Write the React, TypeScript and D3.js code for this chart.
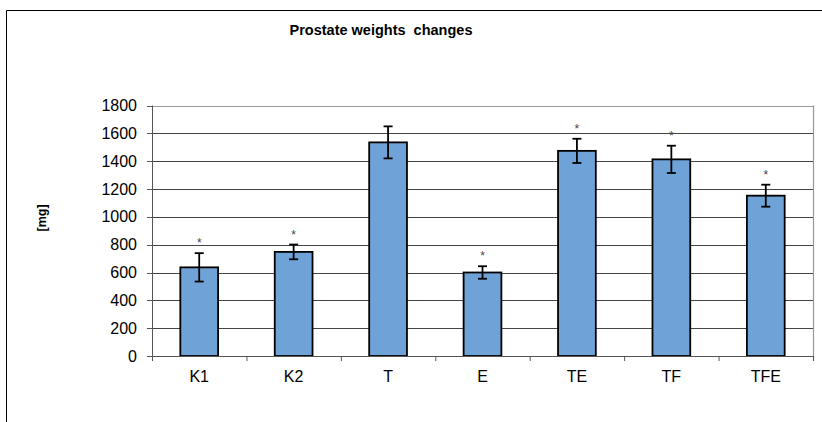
import React from "react";
import * as d3 from "d3";

const categories = ["K1", "K2", "T", "E", "TE", "TF", "TFE"];
const means = [637, 748, 1535, 600, 1474, 1413, 1152];
const errors = [102, 53, 115, 45, 87, 98, 79];
const significant = [true, true, false, true, true, true, true];
const yTicks = [0, 200, 400, 600, 800, 1000, 1200, 1400, 1600, 1800];
const title = "Prostate weights  changes";
const yLabel = "[mg]";

const W = 822;
const H = 422;
const left = 152;
const right = 813;
const top = 105.5;
const bottom = 356;

export default function App() {
  const x = d3.scaleBand<string>().domain(categories).range([left, right]).paddingInner(0).paddingOuter(0);
  const y = d3.scaleLinear().domain([0, 1800]).range([bottom, top]);
  const bw = x.bandwidth() * 0.4;
  const font = "Arial, 'Liberation Sans', Helvetica, sans-serif";
  const ticksX = categories.map((_, i) => left + i * x.step()).concat([right]);

  return (
    <svg width={W} height={H} style={{ position: "absolute", left: 0, top: 0 }} fontFamily={font}>
      <rect x={0} y={0} width={W} height={H} fill="#fff" />
      <line x1={6.5} y1={10.5} x2={W} y2={10.5} stroke="#000" strokeWidth={1} />
      <line x1={6.5} y1={10.5} x2={6.5} y2={H} stroke="#000" strokeWidth={1} />
      <text x={381} y={35} textAnchor="middle" fontSize={14.5} fontWeight="bold" style={{ whiteSpace: "pre" }}>
        {title}
      </text>
      <text transform={`translate(46,218) rotate(-90)`} textAnchor="middle" fontSize={12.5} fontWeight="bold">
        {yLabel}
      </text>
      {categories.map((c, i) =>
        significant[i] ? (
          <text
            key={"s" + c}
            x={(x(c) as number) + x.bandwidth() / 2}
            y={y(means[i] + errors[i]) - 6}
            textAnchor="middle"
            fontSize={12}
            fill="#444"
          >
            *
          </text>
        ) : null
      )}
      {yTicks.map((t) => (
        <line
          key={"g" + t}
          x1={left}
          x2={right}
          y1={Math.round(y(t)) + 0.5}
          y2={Math.round(y(t)) + 0.5}
          stroke={t === 1800 ? "#999" : "#444"}
          strokeWidth={1}
        />
      ))}
      <line x1={right + 0.5} x2={right + 0.5} y1={top} y2={bottom + 5} stroke="#999" strokeWidth={1.2} />
      {categories.map((c, i) => {
        const cx = (x(c) as number) + x.bandwidth() / 2;
        return (
          <g key={c}>
            <rect
              x={cx - bw / 2}
              y={y(means[i])}
              width={bw}
              height={bottom - y(means[i])}
              fill="#6fa3d8"
              stroke="#000"
              strokeWidth={1.8}
            />
            <line x1={cx} x2={cx} y1={y(means[i] + errors[i])} y2={y(means[i] - errors[i])} stroke="#000" strokeWidth={1.8} />
            <line x1={cx - 4.5} x2={cx + 4.5} y1={y(means[i] + errors[i])} y2={y(means[i] + errors[i])} stroke="#000" strokeWidth={1.8} />
            <line x1={cx - 4.5} x2={cx + 4.5} y1={y(means[i] - errors[i])} y2={y(means[i] - errors[i])} stroke="#000" strokeWidth={1.8} />
          </g>
        );
      })}
      <line x1={left + 0.5} x2={left + 0.5} y1={top} y2={bottom + 4} stroke="#555" strokeWidth={1} />
      <line x1={left} x2={right} y1={Math.round(bottom) + 0.5} y2={Math.round(bottom) + 0.5} stroke="#555" strokeWidth={1} />
      {yTicks.map((t) => (
        <g key={"yt" + t}>
          <line x1={left - 5} x2={left} y1={Math.round(y(t)) + 0.5} y2={Math.round(y(t)) + 0.5} stroke="#555" />
          <text x={137} y={y(t) + 5.5} textAnchor="end" fontSize={16}>
            {t}
          </text>
        </g>
      ))}
      {ticksX.map((tx, i) => (
        <line key={"xt" + i} x1={tx + 0.5} x2={tx + 0.5} y1={bottom} y2={bottom + 5} stroke="#555" />
      ))}
      {categories.map((c) => (
        <text key={"xl" + c} x={(x(c) as number) + x.bandwidth() / 2} y={382} textAnchor="middle" fontSize={16}>
          {c}
        </text>
      ))}
    </svg>
  );
}
